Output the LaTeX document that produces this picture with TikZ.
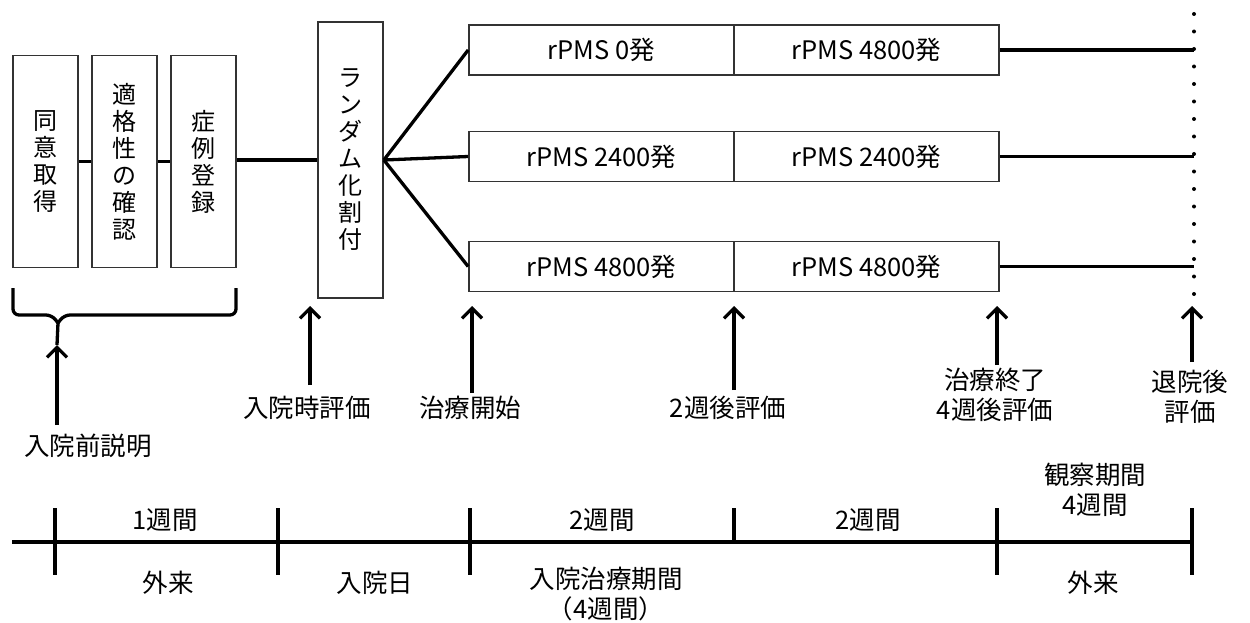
\documentclass[tikz,border=0pt]{standalone}
\usepackage{fontspec}
\setmainfont{Noto Sans CJK JP}
\usetikzlibrary{arrows.meta}
\begin{document}
\begin{tikzpicture}[x=1pt,y=-1pt,
 box/.style={draw=black!80, line width=1.7pt, inner sep=0pt, align=center, font=\fontsize{24}{27}\selectfont},
 vbox/.style={box, minimum width=65pt},
 rbox/.style={box, minimum width=265pt, minimum height=50pt, font=\fontsize{25.5}{27}\selectfont},
 lbl/.style={align=center, font=\fontsize{25.5}{30}\selectfont, inner sep=0pt},
 conn/.style={line width=3.3pt},
 arr/.style={line width=3.3pt, -{Straight Barb[length=10pt,width=20pt]}},
 dotline/.style={line width=4pt, line cap=round, dash pattern=on 0pt off 17.5pt},
]
\useasboundingbox (0,0) rectangle (1250,623);

% vertical boxes
\node[vbox, minimum height=212pt] (b1) at (45.5,161.5) {同\\意\\取\\得};
\node[vbox, minimum height=212pt] (b2) at (124.5,161.5) {適\\格\\性\\の\\確\\認};
\node[vbox, minimum height=212pt] (b3) at (203.5,161.5) {症\\例\\登\\録};
\node[vbox, minimum height=276pt] (b4) at (350.5,160) {ラ\\ン\\ダ\\ム\\化\\割\\付};

\draw[conn] (b1.east) -- (b2.west);
\draw[conn] (b2.east) -- (b3.west);
\draw[conn] (b3.east |- b4.west) -- (b4.west);

% rPMS boxes
\node[rbox] (r1a) at (601.5,50) {rPMS 0発};
\node[rbox] (r1b) at (866.5,50) {rPMS 4800発};
\node[rbox] (r2a) at (601.5,156.5) {rPMS 2400発};
\node[rbox] (r2b) at (866.5,156.5) {rPMS 2400発};
\node[rbox] (r3a) at (601.5,266.5) {rPMS 4800発};
\node[rbox] (r3b) at (866.5,266.5) {rPMS 4800発};

\draw[conn] (b4.east) -- (r1a.west);
\draw[conn] (b4.east) -- (r2a.west);
\draw[conn] (b4.east) -- (r3a.west);

% dotted end line
\coordinate (dtop) at (1194,14);
\coordinate (dbot) at (1194,300);
\draw[dotline] (dtop) -- (dbot);
\draw[conn] (r1b.east) -- (r1b.east -| dtop);
\draw[conn] (r2b.east) -- (r2b.east -| dtop);
\draw[conn] (r3b.east) -- (r3b.east -| dtop);

% brace
\coordinate (btip) at (58,323);
\draw[line width=3.3pt, rounded corners=6pt] (13,288) -- (13,315) -- (52,315) -- (btip);
\draw[line width=3.3pt, rounded corners=6pt] (236,288) -- (236,315) -- (64,315) -- (btip);

% labels and arrows
\node[lbl] (l0) at (88,446) {入院前説明};
\node[lbl] (l1) at (307,408) {入院時評価};
\node[lbl] (l2) at (470,408) {治療開始};
\node[lbl] (l3) at (728,408) {2週後評価};
\node[lbl] (l4) at (995,395) {治療終了\\4週後評価};
\node[lbl] (l5) at (1190,397) {退院後\\評価};

\coordinate (a0s) at (57,425); \coordinate (a0e) at (57,345);
\draw[arr] (a0s) -- (a0e);
\draw[conn] (a0e) -- (btip);
\coordinate (a1s) at (310,385); \coordinate (a1e) at (310,306);
\draw[arr] (a1s) -- (a1e);
\coordinate (a2s) at (472,393); \coordinate (a2e) at (472,306);
\draw[arr] (a2s) -- (a2e);
\coordinate (a3s) at (734,390); \coordinate (a3e) at (734,306);
\draw[arr] (a3s) -- (a3e);
\coordinate (a4s) at (997,365); \coordinate (a4e) at (997,306);
\draw[arr] (a4s) -- (a4e);
\coordinate (a5s) at (1192,362); \coordinate (a5e) at (1192,306);
\draw[arr] (a5s) -- (a5e);

% timeline
\coordinate (tl) at (12,542);
\coordinate (tr) at (1192,542);
\draw[conn] (tl) -- (tr);
\foreach \x in {55,278,470,997,1192} \draw[conn] (\x,508) -- (\x,575);
\draw[conn] (734,508) -- (734,542);

\node[lbl] (p1) at (165,520) {1週間};
\node[lbl] (p2) at (602,520) {2週間};
\node[lbl] (p3) at (868,520) {2週間};
\node[lbl] (p4) at (1095,490) {観察期間\\4週間};
\node[lbl] (q1) at (168,583) {外来};
\node[lbl] (q2) at (375,583) {入院日};
\node[lbl] (q3) at (606,594) {入院治療期間\\（4週間）};
\node[lbl] (q4) at (1093,583) {外来};
\end{tikzpicture}
\end{document}
